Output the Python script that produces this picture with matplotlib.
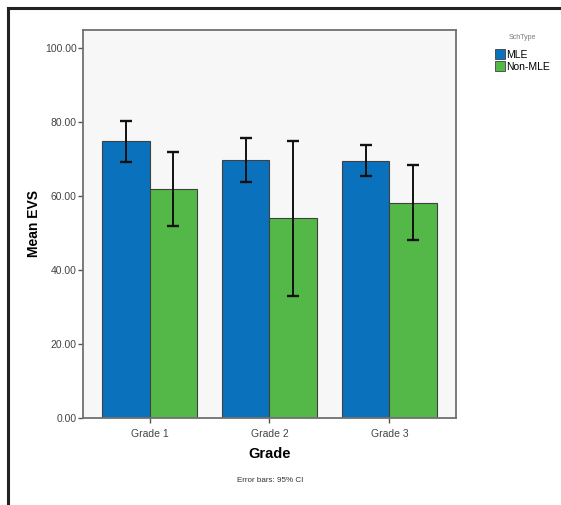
import numpy as np
import matplotlib
matplotlib.use("Agg")
import matplotlib.pyplot as plt
from matplotlib.lines import Line2D
from matplotlib.patches import Patch

grades = ["Grade 1", "Grade 2", "Grade 3"]
series = ["MLE", "Non-MLE"]
mle_mean = [74.9, 69.8, 69.4]
mle_lo = [69.2, 63.7, 65.3]
mle_hi = [80.4, 75.7, 73.7]
non_mean = [61.9, 54.1, 58.2]
non_lo = [51.9, 33.1, 48.1]
non_hi = [71.8, 75.0, 68.5]

blue = "#0a72bd"
green = "#54b848"

plt.rcParams["font.family"] = ["Liberation Sans", "DejaVu Sans"]

fig = plt.figure(figsize=(5.61, 5.05), dpi=100)
ax = fig.add_axes([83 / 561, 1 - 418 / 505, 373 / 561, 388 / 505])
ax.set_facecolor("#f7f7f7")

x = np.arange(len(grades))
w = 0.396
for means, lo, hi, col, off in [(mle_mean, mle_lo, mle_hi, blue, -w / 2),
                                (non_mean, non_lo, non_hi, green, w / 2)]:
    means = np.array(means)
    err = [means - np.array(lo), np.array(hi) - means]
    ax.bar(x + off, means, width=w, color=col, edgecolor="#404040",
           linewidth=0.8, zorder=2)
    ax.errorbar(x + off, means, yerr=err, fmt="none", ecolor="#111111",
                elinewidth=1.4, capsize=4.3, capthick=1.7, zorder=3)

ax.set_xlim(-0.555, 2.555)
ax.set_ylim(0, 104.9)
ax.set_yticks(np.arange(0, 101, 20))
ax.set_yticklabels([f"{v:.2f}" for v in np.arange(0, 101, 20)])
ax.set_xticks(x)
ax.set_xticklabels(grades)
ax.tick_params(axis="both", labelsize=7.5, labelcolor="#444444",
               color="#555555", length=3.6, width=1, direction="out")
ax.tick_params(axis="y", pad=1)
ax.tick_params(axis="x", pad=4)
for s in ax.spines.values():
    s.set_color("#707070")
    s.set_linewidth(1.3)

ax.set_ylabel("Mean EVS", fontsize=10, fontweight="bold", labelpad=3)
ax.set_xlabel("Grade", fontsize=10.5, fontweight="bold", labelpad=6)
fig.text(270 / 561, 1 - 480 / 505, "Error bars: 95% CI", fontsize=5.8,
         ha="center", va="center", color="#333333")

# legend
handles = [Patch(facecolor=blue, edgecolor="#404040", linewidth=0.6),
           Patch(facecolor=green, edgecolor="#404040", linewidth=0.6)]
leg = fig.legend(handles, series, title="SchType", loc="upper left",
                 bbox_to_anchor=(495 / 561, 1 - 34 / 505), frameon=False,
                 fontsize=7.5, title_fontsize=5, handlelength=1.0,
                 handleheight=1.1, handletextpad=0.1, labelspacing=0.15,
                 borderaxespad=0, borderpad=0)
leg.get_title().set_color("#777777")
leg._legend_box.sep = 6

# outer frame (left and top edges)
fig.add_artist(Line2D([7.5 / 561, 7.5 / 561], [0, 1 - 8 / 505],
                      transform=fig.transFigure, color="#222222", lw=2.2))
fig.add_artist(Line2D([7.5 / 561, 1], [1 - 8 / 505, 1 - 8 / 505],
                      transform=fig.transFigure, color="#222222", lw=2.2))

fig.savefig("out.png", dpi=100)
